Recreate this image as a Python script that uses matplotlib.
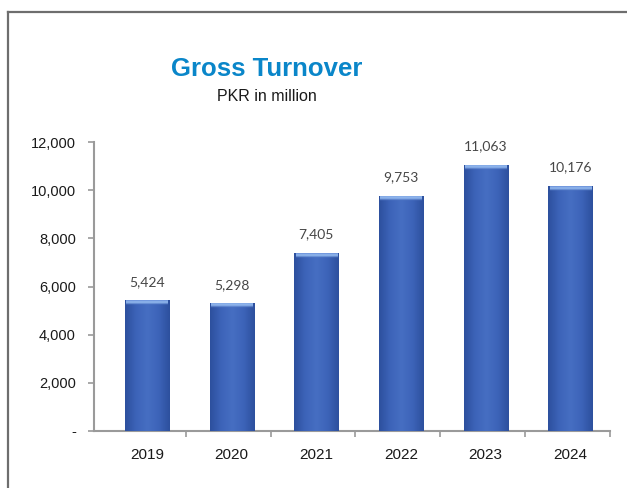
import matplotlib
matplotlib.use("Agg")
import matplotlib.pyplot as plt
import numpy as np
from matplotlib.colors import LinearSegmentedColormap
from matplotlib.lines import Line2D

years = ["2019", "2020", "2021", "2022", "2023", "2024"]
values = [5424, 5298, 7405, 9753, 11063, 10176]
value_labels = ["5,424", "5,298", "7,405", "9,753", "11,063", "10,176"]
y_ticks = [0, 2000, 4000, 6000, 8000, 10000, 12000]
y_tick_labels = ["-", "2,000", "4,000", "6,000", "8,000", "10,000", "12,000"]

W, H = 627, 488
fig = plt.figure(figsize=(W / 100, H / 100), dpi=100)
fig.patch.set_facecolor("white")

# frame lines (open on right and bottom)
fig.add_artist(Line2D([8 / W, 8 / W], [0, 1 - 12 / H], color="#6e6e6e", lw=1.6,
                      transform=fig.transFigure))
fig.add_artist(Line2D([8 / W, 1], [1 - 12 / H, 1 - 12 / H], color="#6e6e6e", lw=1.6,
                      transform=fig.transFigure))

left, right = 94 / W, 610 / W
bottom, top = (H - 431) / H, (H - 142) / H
ax = fig.add_axes([left, bottom, right - left, top - bottom])

x = np.arange(len(years))
bw = 0.52
bars = ax.bar(x, values, width=bw, color="#3b61b6", zorder=2)

cmap = LinearSegmentedColormap.from_list(
    "barh", ["#2d509e", "#3d64b9", "#466ec2", "#3d64b9", "#2d509e"])
grad = np.linspace(0, 1, 64).reshape(1, -1)
cap_cmap = LinearSegmentedColormap.from_list(
    "cap", [(0.0, (0.24, 0.39, 0.72, 0.0)), (0.35, (0.55, 0.70, 0.92, 0.9)),
            (0.7, (0.60, 0.75, 0.95, 0.95)), (1.0, (0.40, 0.55, 0.85, 0.9))])
vgrad = np.linspace(0, 1, 32).reshape(-1, 1)
cap_h = 12000 * 5 / 289
for b in bars:
    x0, w, h = b.get_x(), b.get_width(), b.get_height()
    im = ax.imshow(grad, cmap=cmap, aspect="auto", extent=[x0, x0 + w, 0, h],
                   zorder=3, interpolation="bicubic")
    im.set_clip_path(b)
    im2 = ax.imshow(vgrad, cmap=cap_cmap, aspect="auto", origin="lower",
                    extent=[x0 + w * 0.03, x0 + w * 0.97, h - cap_h, h],
                    zorder=4, interpolation="bicubic")
    im2.set_clip_path(b)

for xi, v, lab in zip(x, values, value_labels):
    ax.annotate(lab, (xi, v), xytext=(0, 9), textcoords="offset points",
                ha="center", va="bottom", fontsize=10, color="#474747",
                family="Lato")

ax.set_xlim(-0.626, 5.47)
ax.set_ylim(0, 12000)

for s in ["top", "right"]:
    ax.spines[s].set_visible(False)
for s in ["left", "bottom"]:
    ax.spines[s].set_color("#9a9a9a")
    ax.spines[s].set_linewidth(1.5)

ax.set_yticks(y_ticks)
ax.set_yticklabels(y_tick_labels, family="Liberation Sans", fontsize=10.5, color="#1a1a1a")
ax.tick_params(axis="y", direction="out", length=4, width=1.2, color="#9a9a9a", pad=9)

ax.set_xticks(x)
ax.set_xticklabels(years, family="Liberation Sans", fontsize=11, color="#1a1a1a")
ax.tick_params(axis="x", which="major", length=0, pad=12)
ax.set_xticks([i + 0.46 for i in range(5)] + [5.47], minor=True)
ax.tick_params(axis="x", which="minor", direction="out", length=4, width=1.2, color="#9a9a9a")

fig.text(267 / W, 1 - 76 / H, "Gross Turnover", ha="center", va="baseline",
         fontsize=18.5, fontweight="bold", color="#0a86c9", family="Liberation Sans")
fig.text(267 / W, 1 - 101 / H, "PKR in million", ha="center", va="baseline",
         fontsize=11.5, color="#1a1a1a", family="Liberation Sans")

fig.savefig("out.png", dpi=100, facecolor="white")
